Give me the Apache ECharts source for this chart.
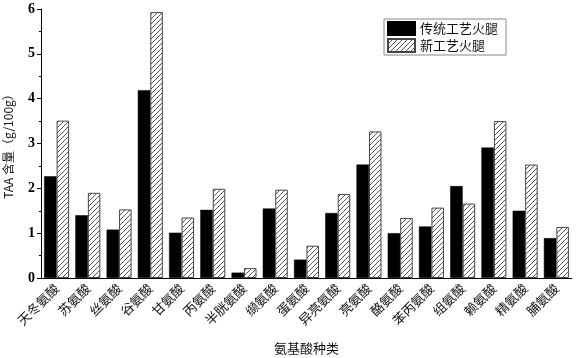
<!DOCTYPE html>
<html>
<head>
<meta charset="utf-8">
<script src="https://cdn.jsdelivr.net/npm/echarts@6/dist/echarts.min.js"></script>
<style>
  html, body { margin: 0; padding: 0; background: #fff; }
  #chart { width: 576px; height: 358px; }
</style>
</head>
<body>
<div id="chart"></div>
<script>
// 氨基酸种类
const categories = ['天冬氨酸', '苏氨酸', '丝氨酸', '谷氨酸', '甘氨酸', '丙氨酸', '半胱氨酸', '缬氨酸', '蛋氨酸',
    '异亮氨酸', '亮氨酸', '酪氨酸', '苯丙氨酸', '组氨酸', '赖氨酸', '精氨酸', '脯氨酸'];
// 传统工艺火腿 (g/100g)
const traditional = [2.27, 1.40, 1.08, 4.19, 1.01, 1.52, 0.12, 1.55, 0.41, 1.45, 2.53, 1.00, 1.15, 2.05, 2.91, 1.50, 0.89];
// 新工艺火腿 (g/100g)
const newProcess = [3.51, 1.90, 1.53, 5.93, 1.35, 1.99, 0.22, 1.97, 0.72, 1.875, 3.27, 1.34, 1.57, 1.66, 3.50, 2.53, 1.14];
const yTicks = [0, 1, 2, 3, 4, 5, 6];

// 斜线填充
function hatch() {
    const c = document.createElement('canvas');
    c.width = 5;
    c.height = 5;
    const ctx = c.getContext('2d');
    ctx.fillStyle = '#fff';
    ctx.fillRect(0, 0, 5, 5);
    ctx.strokeStyle = '#555';
    ctx.lineWidth = 1;
    ctx.beginPath();
    ctx.moveTo(-1, 6);
    ctx.lineTo(6, -1);
    ctx.moveTo(-1, 1);
    ctx.lineTo(1, -1);
    ctx.moveTo(4, 6);
    ctx.lineTo(6, 4);
    ctx.stroke();
    return c;
}

const cjk = '"Noto Sans CJK SC", sans-serif';
const myChart = echarts.init(document.getElementById('chart'));
const option = {
    animation: false,
    grid: { left: 41, right: 4, top: 9, bottom: 80, outerBoundsMode: 'none', containLabel: false },
    legend: {
        orient: 'vertical',
        left: 384,
        top: 19,
        icon: 'rect',
        itemWidth: 27,
        itemHeight: 13,
        itemGap: 2,
        padding: [2, 8, 2, 3],
        borderColor: '#888',
        borderWidth: 1,
        textStyle: { fontFamily: cjk, fontSize: 13, color: '#111' },
        data: ['传统工艺火腿', '新工艺火腿']
    },
    xAxis: [{
        type: 'category',
        data: categories,
        name: '氨基酸种类',
        nameLocation: 'middle',
        nameGap: 64,
        nameTextStyle: { fontFamily: cjk, fontSize: 13, color: '#111' },
        axisLine: { lineStyle: { color: '#000', width: 1 } },
        axisTick: { alignWithLabel: true, length: 5, lineStyle: { color: '#000' } },
        axisLabel: { rotate: 45, margin: 8, fontFamily: cjk, fontSize: 13, color: '#111' }
    }, {
        type: 'category',
        data: categories,
        position: 'bottom',
        axisLine: { show: false },
        axisTick: { length: 2, lineStyle: { color: '#000' } },
        axisLabel: { show: false }
    }],
    yAxis: {
        type: 'value',
        min: yTicks[0],
        max: yTicks[yTicks.length - 1],
        interval: 1,
        name: 'TAA 含量（g/100g）',
        nameLocation: 'middle',
        nameGap: 27,
        nameTextStyle: { fontFamily: cjk, fontSize: 12, color: '#111' },
        axisLine: { show: true, lineStyle: { color: '#000', width: 1 } },
        axisTick: { show: true, length: 4, lineStyle: { color: '#000' } },
        minorTick: { show: true, splitNumber: 2, length: 2, lineStyle: { color: '#000' } },
        splitLine: { show: false },
        axisLabel: { fontFamily: '"Liberation Serif", serif', fontSize: 14, fontWeight: 'bold', color: '#000', margin: 6 }
    },
    series: [{
        name: '传统工艺火腿',
        type: 'bar',
        data: traditional,
        barWidth: 12.5,
        barGap: '0%',
        itemStyle: { color: '#000', borderColor: '#000', borderWidth: 0.5 }
    }, {
        name: '新工艺火腿',
        type: 'bar',
        data: newProcess,
        barWidth: 12.5,
        itemStyle: { color: { image: hatch(), repeat: 'repeat' }, borderColor: '#444', borderWidth: 1 }
    }]
};
myChart.setOption(option);
</script>
</body>
</html>
